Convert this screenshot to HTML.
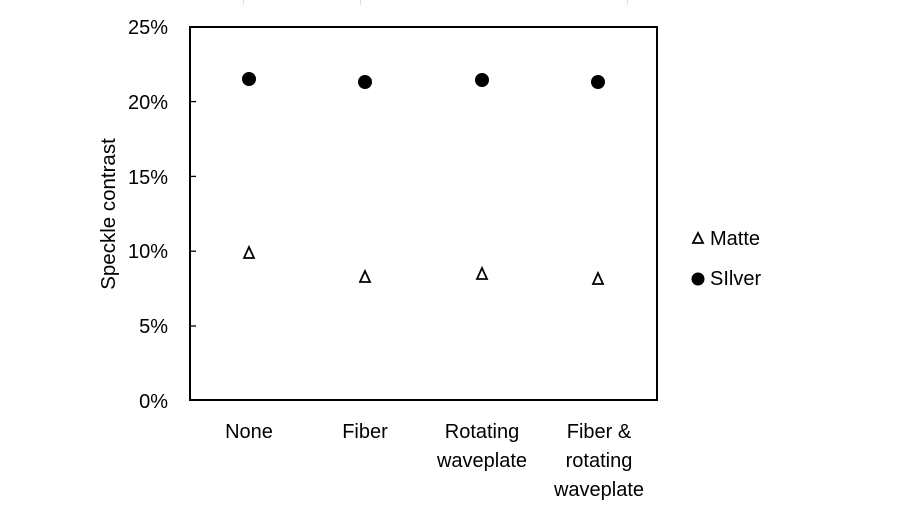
<!DOCTYPE html>
<html><head><style>body{margin:0;background:#fff}svg{display:block}text{font-family:"Liberation Sans",sans-serif;font-size:20px;fill:#000}</style></head>
<body>
<svg width="900" height="510" viewBox="0 0 900 510" xmlns="http://www.w3.org/2000/svg">
<g stroke="#e0e0e0" stroke-width="1"><line x1="243.5" y1="0" x2="243.5" y2="5"/><line x1="360.5" y1="0" x2="360.5" y2="5"/><line x1="627.5" y1="0" x2="627.5" y2="5"/></g>
<rect x="190" y="27" width="467" height="373" fill="none" stroke="#000" stroke-width="2"/>
<g stroke="#000" stroke-width="1.3">
<line x1="190" y1="101.6" x2="196" y2="101.6"/><line x1="190" y1="176.4" x2="196" y2="176.4"/><line x1="190" y1="251.2" x2="196" y2="251.2"/><line x1="190" y1="326" x2="196" y2="326"/>
</g>
<g text-anchor="end">
<text x="168" y="34">25%</text><text x="168" y="109">20%</text><text x="168" y="184">15%</text><text x="168" y="258">10%</text><text x="168" y="333">5%</text><text x="168" y="408">0%</text>
</g>
<text transform="translate(115,214) rotate(-90)" text-anchor="middle" style="font-size:20.5px">Speckle contrast</text>
<g fill="#000"><circle cx="249" cy="79" r="7"/><circle cx="365" cy="82" r="7"/><circle cx="482" cy="80" r="7"/><circle cx="598" cy="82" r="7"/></g>
<g fill="none" stroke="#000" stroke-width="1.8">
<polygon points="249,247 244,258 254,258"/><polygon points="365,271 360,282 370,282"/><polygon points="482,268 477,279 487,279"/><polygon points="598,273 593,284 603,284"/>
</g>
<g text-anchor="middle">
<text x="249" y="438">None</text><text x="365" y="438">Fiber</text>
<text x="482" y="438">Rotating</text><text x="482" y="467">waveplate</text>
<text x="599" y="438">Fiber &amp;</text><text x="599" y="467">rotating</text><text x="599" y="496">waveplate</text>
</g>
<polygon points="698,233 693,243 703,243" fill="none" stroke="#000" stroke-width="1.8"/>
<text x="710" y="245">Matte</text>
<circle cx="698" cy="279" r="6.5" fill="#000"/>
<text x="710" y="285">SIlver</text>
</svg>
</body></html>
